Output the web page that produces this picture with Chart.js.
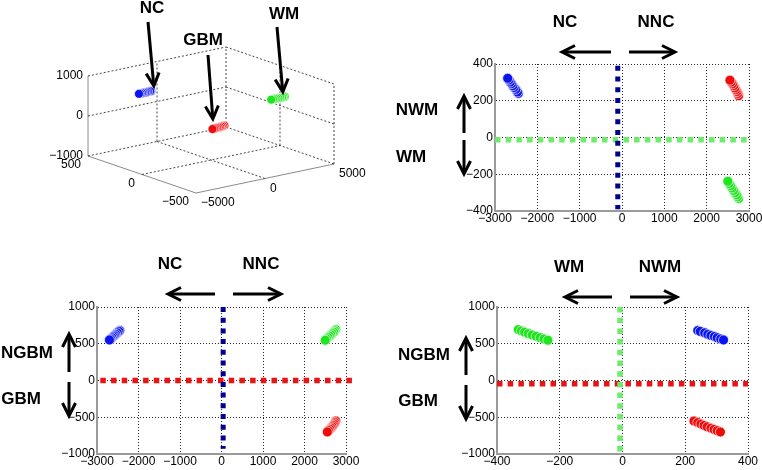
<!DOCTYPE html>
<html><head><meta charset="utf-8">
<script src="https://cdn.jsdelivr.net/npm/chart.js@4"></script>
<style>
html,body{margin:0;padding:0;background:#fff;}
#wrap{position:relative;width:762px;height:470px;overflow:hidden;background:#fff;}
canvas{position:absolute;left:0;top:0;}
</style></head><body>
<div id="wrap">
<canvas id="c3d" width="762" height="470"></canvas>
<canvas id="cNW" width="762" height="470"></canvas>
<canvas id="cNG" width="762" height="470"></canvas>
<canvas id="cWG" width="762" height="470"></canvas>
</div>
<script>
// ---------------- DATA ----------------
// NC class (blue): coordinates along the NC, WM and GBM discriminant axes
const ncC  = [-2450, -2470, -2510, -2550, -2580, -2610, -2640, -2670, -2700];
const ncW  = [240, 248, 262, 272, 282, 293, 302, 313, 322];
const ncG  = [680, 668, 648, 628, 612, 598, 582, 565, 552];
// GBM class (red)
const gbmC = [2755, 2735, 2715, 2690, 2665, 2640, 2610, 2580, 2550];
const gbmW = [228, 240, 250, 260, 270, 282, 292, 302, 312];
const gbmG = [-552, -572, -592, -612, -630, -648, -665, -682, -700];
// WM class (green)
const wmC  = [2755, 2730, 2705, 2670, 2635, 2600, 2565, 2530, 2500];
const wmW  = [-332, -322, -312, -300, -288, -275, -262, -250, -238];
const wmG  = [692, 675, 657, 638, 620, 602, 583, 565, 548];

// decision boundaries (value, extent start, extent end)
const bNW_nc = [-100, 390, -390];     // panel NC/WM: vertical NC boundary x, y-range
const bNW_wm = [-12, -3000, 3000];    // horizontal WM boundary y, x-range
const bNG_nc = [40, 1000, -930];      // panel NC/GBM: vertical NC boundary
const bNG_gbm = [0, -2920, 3170];     // horizontal GBM boundary
const bWG_wm = [-8, 1000, -990];      // panel WM/GBM: vertical WM boundary
const bWG_gbm = [-45, -400, 400];     // horizontal GBM boundary

// axis ranges / ticks
const cRange = [-3000, 3000], cStep = 1000;
const wRange = [-400, 400], wStep = 200;
const gRange = [-1000, 1000], gStep = 500;
const x3Ticks = [-5000, 0, 5000];
const y3Ticks = [-500, 0, 500];
const z3Ticks = [-1000, 0, 1000];

// ---------------- STYLE ----------------
const BLUE = 'rgb(10,20,240)', RED = 'rgb(240,10,10)', GREEN = 'rgb(30,230,30)';
const NAVY = 'rgb(0,0,140)', LGREEN = 'rgb(110,235,110)', LRED = 'rgb(235,20,20)';
const FONT = '"Liberation Sans", Arial, Helvetica, sans-serif';
const tickFont = {family: FONT, size: 12};
const fmt = v => (v < 0 ? '\u2212' + (-v) : String(v));

function pts(a, b) { return a.map((v, i) => ({x: v, y: b[i]})); }
function scatterDs(data, color, r) {
  return {data, showLine: false, pointRadius: r || 5, pointHoverRadius: r || 5,
    backgroundColor: color, borderColor: 'rgba(255,255,255,0.85)', borderWidth: 0.8, clip: false};
}
function boundV(b, color, w) {
  return {data: [{x: b[0], y: b[1]}, {x: b[0], y: b[2]}], showLine: true, pointRadius: 0,
    borderColor: color, borderWidth: w, borderDash: [w, 10.7 - w], borderCapStyle: 'butt', clip: false};
}
function boundH(b, color, w) {
  return {data: [{x: b[1], y: b[0]}, {x: b[2], y: b[0]}], showLine: true, pointRadius: 0,
    borderColor: color, borderWidth: w, borderDash: [w, 10.7 - w], borderCapStyle: 'butt', clip: false};
}

const YW = 40, XH = 20;
function axisOpts(range, step, isY) {
  return {
    type: 'linear', min: range[0], max: range[1], position: isY ? 'left' : 'bottom',
    afterFit: s => { if (isY) s.width = YW; else s.height = XH;
      s.paddingLeft = 0; s.paddingRight = 0; s.paddingTop = 0; s.paddingBottom = 0; },
    ticks: {stepSize: step, callback: fmt, font: tickFont, color: '#000', padding: isY ? 2 : 0,
      maxRotation: 0, autoSkip: false},
    grid: {color: 'rgba(0,0,0,0.85)', lineWidth: 1, drawTicks: false},
    border: {display: true, color: '#9a9a9a', width: 2, dash: [1, 2]}
  };
}
function panel(id, area, xr, xs, yr, ys, datasets, plugins) {
  return new Chart(document.getElementById(id), {
    type: 'scatter',
    data: {datasets},
    options: {
      responsive: false, animation: false, devicePixelRatio: 1, events: [],
      layout: {padding: {left: area.left - YW, top: area.top, right: 762 - area.right, bottom: 470 - area.bottom - XH}},
      plugins: {legend: {display: false}, tooltip: {enabled: false}},
      scales: {x: axisOpts(xr, xs, false), y: axisOpts(yr, ys, true)}
    },
    plugins: plugins || []
  });
}

// ---------------- 3D PANEL ----------------
const box3 = {x: [-5000, 5000], y: [-500, 500], z: [-1000, 1000]};
// orthographic view basis (screen units per full axis range)
const VX = [138, 29], VY = [108, -37], VZ = [0, 80];
function proj(x, y, z) {
  const xn = (x - box3.x[0]) / (box3.x[1] - box3.x[0]);
  const yn = (box3.y[1] - y) / (box3.y[1] - box3.y[0]);
  const zn = (z - box3.z[0]) / (box3.z[1] - box3.z[0]);
  return {x: VX[0] * xn + VY[0] * yn + VZ[0] * zn, y: VX[1] * xn + VY[1] * yn + VZ[1] * zn};
}
const X0 = box3.x[0], X1 = box3.x[1], Y0 = box3.y[0], Y1 = box3.y[1], Z0 = box3.z[0], Z1 = box3.z[1];
function seg(p, q, dotted) {
  return {data: [proj(...p), proj(...q)], showLine: true, pointRadius: 0, clip: false,
    borderColor: dotted ? 'rgba(40,40,40,0.85)' : '#8a8a8a', borderWidth: 1,
    borderDash: dotted ? [2, 2] : []};
}
const segs3 = [];
// box edges (dotted)
segs3.push(seg([X0, Y1, Z0], [X1, Y1, Z0], true));
segs3.push(seg([X1, Y1, Z0], [X1, Y0, Z0], true));
segs3.push(seg([X1, Y1, Z0], [X1, Y1, Z1], true));
segs3.push(seg([X1, Y0, Z0], [X1, Y0, Z1], true));
segs3.push(seg([X0, Y1, Z1], [X1, Y1, Z1], true));
segs3.push(seg([X1, Y1, Z1], [X1, Y0, Z1], true));
// grid lines at interior ticks
z3Ticks.filter(t => t > Z0 && t < Z1).forEach(t => {
  segs3.push(seg([X0, Y1, t], [X1, Y1, t], true));
  segs3.push(seg([X1, Y1, t], [X1, Y0, t], true));
});
x3Ticks.filter(t => t > X0 && t < X1).forEach(t => {
  segs3.push(seg([t, Y1, Z0], [t, Y1, Z1], true));
  segs3.push(seg([t, Y1, Z0], [t, Y0, Z0], true));
});
y3Ticks.filter(t => t > Y0 && t < Y1).forEach(t => {
  segs3.push(seg([X1, t, Z0], [X1, t, Z1], true));
  segs3.push(seg([X0, t, Z0], [X1, t, Z0], true));
});
// solid axes
segs3.push(seg([X0, Y1, Z0], [X0, Y1, Z1], false));
segs3.push(seg([X0, Y1, Z0], [X0, Y0, Z0], false));
segs3.push(seg([X0, Y0, Z0], [X1, Y0, Z0], false));

function proj3pts(c, w, g) { return c.map((v, i) => proj(v, w[i], g[i])); }

const ticks3d = {
  id: 'ticks3d',
  afterDraw(chart) {
    const ctx = chart.ctx, sx = chart.scales.x, sy = chart.scales.y;
    const px = p => [sx.getPixelForValue(p.x), sy.getPixelForValue(p.y)];
    ctx.save();
    ctx.font = '12px ' + FONT; ctx.fillStyle = '#000'; ctx.textBaseline = 'middle';
    ctx.textAlign = 'right';
    z3Ticks.forEach(t => { const [a, b] = px(proj(X0, Y1, t)); ctx.fillText(fmt(t), a - 5, b); });
    y3Ticks.forEach(t => { const [a, b] = px(proj(X0, t, Z0)); ctx.fillText(fmt(t), a - 7, b + 9); });
    ctx.textAlign = 'left';
    x3Ticks.forEach(t => { const [a, b] = px(proj(t, Y0, Z0)); ctx.fillText(fmt(t), a + 5, b + 10); });
    ctx.restore();
  }
};

new Chart(document.getElementById('c3d'), {
  type: 'scatter',
  data: {datasets: [
    scatterDs(proj3pts(ncC, ncW, ncG), BLUE, 4.5),
    scatterDs(proj3pts(gbmC, gbmW, gbmG), RED, 4.5),
    scatterDs(proj3pts(wmC, wmW, wmG), GREEN, 4.5),
    ...segs3
  ]},
  options: {
    responsive: false, animation: false, devicePixelRatio: 1, events: [],
    layout: {padding: {left: 88, right: 762 - 334, top: 47, bottom: 470 - 193}},
    plugins: {legend: {display: false}, tooltip: {enabled: false}},
    scales: {
      x: {type: 'linear', display: false, min: 0, max: VX[0] + VY[0]},
      y: {type: 'linear', display: false, min: VY[1], max: VX[1] + VZ[1]}
    }
  },
  plugins: [ticks3d]
});

// ---------------- 2D PANELS ----------------
panel('cNW', {left: 495, right: 749, top: 64, bottom: 211}, cRange, cStep, wRange, wStep, [
  scatterDs(pts(ncC, ncW), BLUE), scatterDs(pts(gbmC, gbmW), RED), scatterDs(pts(wmC, wmW), GREEN),
  boundV(bNW_nc, NAVY, 5), boundH(bNW_wm, LGREEN, 5.5)
]);
panel('cNG', {left: 97, right: 346, top: 307, bottom: 454}, cRange, cStep, gRange, gStep, [
  scatterDs(pts(ncC, ncG), BLUE), scatterDs(pts(gbmC, gbmG), RED), scatterDs(pts(wmC, wmG), GREEN),
  boundV(bNG_nc, NAVY, 5), boundH(bNG_gbm, LRED, 5.5)
]);

// annotation arrows and labels (layout)
const arrows = [
  [148, 22, 154, 88], [208, 55, 213, 121], [277, 27, 283, 94],
  [611, 52, 560, 52], [629, 52, 677, 52], [464, 133, 464, 94], [464, 140, 464, 176],
  [215, 294, 166, 294], [233, 294, 283, 294], [69, 372, 69, 332], [69, 382, 69, 418],
  [612, 297, 563, 297], [630, 297, 679, 297], [466, 375, 466, 336], [466, 385, 466, 421]
];
const notes = [
  ['NC', 152, 7], ['GBM', 203, 39], ['WM', 284, 13],
  ['NC', 565, 21], ['NNC', 656, 21], ['NWM', 417, 109], ['WM', 411, 156],
  ['NC', 170, 263], ['NNC', 261, 263], ['NGBM', 27, 352], ['GBM', 21, 398],
  ['WM', 569, 266], ['NWM', 660, 266], ['NGBM', 424, 354], ['GBM', 418, 400]
];
const annot = {
  id: 'annot',
  afterDraw(chart) {
    const ctx = chart.ctx;
    ctx.save();
    ctx.strokeStyle = '#000'; ctx.lineWidth = 3; ctx.lineCap = 'butt'; ctx.lineJoin = 'miter';
    arrows.forEach(([x1, y1, x2, y2]) => {
      const dx = x2 - x1, dy = y2 - y1, L = Math.hypot(dx, dy), ux = dx / L, uy = dy / L;
      const tx = x2 - ux * 2, ty = y2 - uy * 2;
      ctx.beginPath(); ctx.moveTo(x1, y1); ctx.lineTo(tx - ux, ty - uy); ctx.stroke();
      const hl = 13, hw = 6.5;
      ctx.beginPath();
      ctx.moveTo(tx - ux * hl - uy * hw, ty - uy * hl + ux * hw);
      ctx.lineTo(tx, ty);
      ctx.lineTo(tx - ux * hl + uy * hw, ty - uy * hl - ux * hw);
      ctx.stroke();
    });
    ctx.fillStyle = '#000'; ctx.font = 'bold 17px ' + FONT;
    ctx.textAlign = 'center'; ctx.textBaseline = 'alphabetic';
    notes.forEach(([t, x, y]) => ctx.fillText(t, x, y + 6));
    ctx.restore();
  }
};

panel('cWG', {left: 497, right: 748, top: 307, bottom: 454}, wRange, wStep, gRange, gStep, [
  scatterDs(pts(ncW, ncG), BLUE), scatterDs(pts(gbmW, gbmG), RED), scatterDs(pts(wmW, wmG), GREEN),
  boundV(bWG_wm, LGREEN, 5.5), boundH(bWG_gbm, LRED, 5.5)
], [annot]);
</script>
</body></html>
